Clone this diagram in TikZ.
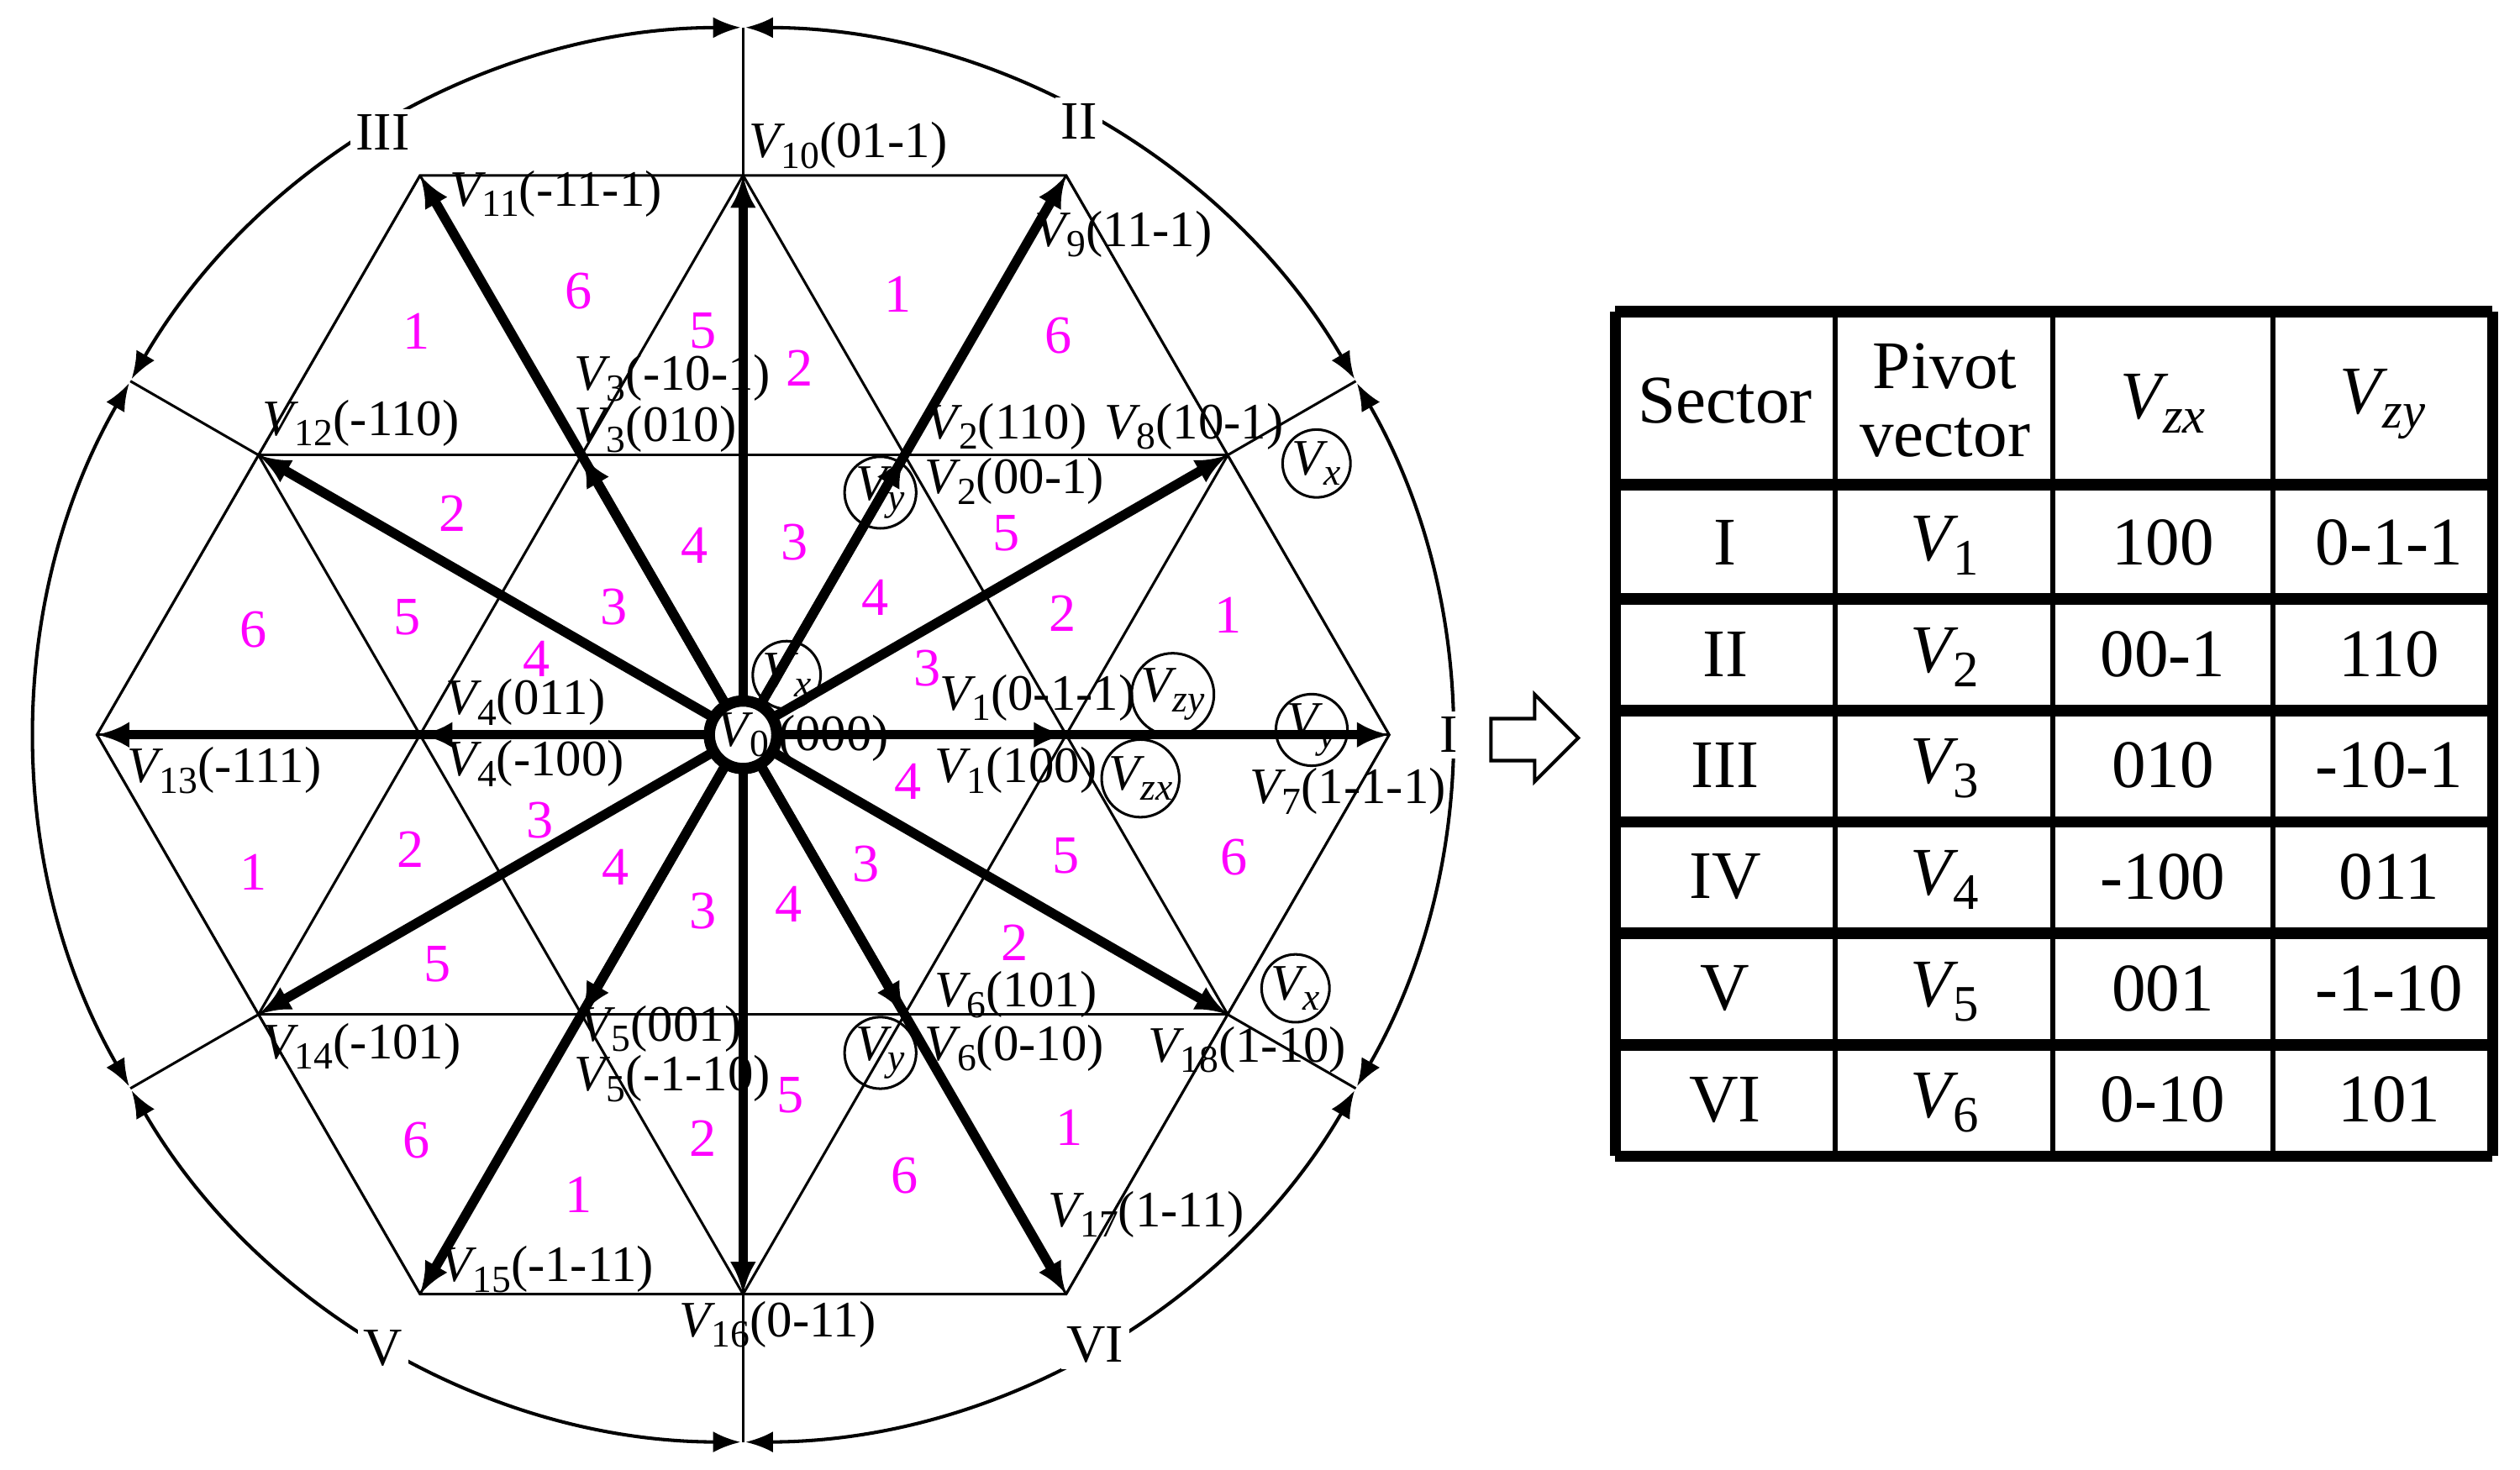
\documentclass[tikz,border=0pt]{standalone}
\usepackage{fontspec}
\setmainfont{Liberation Serif}
\usetikzlibrary{arrows.meta}
\definecolor{mag}{RGB}{255,0,255}
\newcommand\vv[1]{\textit{V}\kern-0.08em\raisebox{-0.45ex}{\scalebox{0.75}{#1}}}
\newcommand\vi[1]{\textit{V}\kern-0.08em\raisebox{-0.45ex}{\scalebox{0.75}{\textit{#1}}}}
\begin{document}
\begin{tikzpicture}[x=0.01cm,y=-0.01cm,
  lab/.style={anchor=west,inner sep=0pt,font=\fontsize{9}{10}\selectfont},
  num/.style={text=mag,inner sep=0pt,font=\fontsize{9.5}{10}\selectfont},
  vec/.style={line width=1.7pt,-{Latex[length=0.2cm,width=0.16cm]}},
  thin/.style={line width=0.45pt},
  circ/.style={circle,draw,thin,inner sep=0pt,minimum size=0.42cm,font=\fontsize{9}{10}\selectfont},
  sec/.style={fill=white,inner sep=1pt,font=\fontsize{9.5}{10}\selectfont},
  tab/.style={font=\fontsize{12}{14}\selectfont,align=center,inner sep=0pt}]
\useasboundingbox (0,0) rectangle (1560,909.8);
\coordinate (C) at (460,455);
% large
\coordinate (A0) at (860,455); \coordinate (A60) at (660,108.6); \coordinate (A120) at (260,108.6);
\coordinate (A180) at (60,455); \coordinate (A240) at (260,801.4); \coordinate (A300) at (660,801.4);
% medium
\coordinate (M30) at (760,281.8); \coordinate (M90) at (460,108.6); \coordinate (M150) at (160,281.8);
\coordinate (M210) at (160,628.2); \coordinate (M270) at (460,801.4); \coordinate (M330) at (760,628.2);
% small
\coordinate (S0) at (660,455); \coordinate (S60) at (560,281.8); \coordinate (S120) at (360,281.8);
\coordinate (S180) at (260,455); \coordinate (S240) at (360,628.2); \coordinate (S300) at (560,628.2);
% grid
\begin{scope}
\clip (A0)--(A60)--(A120)--(A180)--(A240)--(A300)--cycle;
\foreach \yy in {281.8,455,628.2} \draw[thin] (0,\yy)--(900,\yy);
\foreach \k in {-3,...,3} {
  \draw[thin] ({460+200*\k-300},974.6)--({460+200*\k+300},-64.6);
  \draw[thin] ({460+200*\k+300},974.6)--({460+200*\k-300},-64.6);
}
\end{scope}
\draw[thin] (A0)--(A60)--(A120)--(A180)--(A240)--(A300)--cycle;
% boundary lines
\coordinate (B90) at (460,17); \coordinate (B270) at (460,893);
\coordinate (B30) at (839.3,236); \coordinate (B210) at (80.7,674);
\coordinate (B150) at (80.7,236); \coordinate (B330) at (839.3,674);
\draw[thin] (B90)--(B270); \draw[thin] (B30)--(B210); \draw[thin] (B150)--(B330);
% arcs
\foreach \a in {-30,30,90,150,210,270}
  \draw[line width=0.6pt,{Latex[length=0.17cm,width=0.13cm]}-{Latex[length=0.17cm,width=0.13cm]}]
    (C) ++({-\a-0.2}:438) arc[start angle={-\a-0.2},end angle={-\a-59.8},radius=438];
\node[sec] (sI) at (897,455) {I};
\node[sec] (sII) at (668,75) {II};
\node[sec] (sIII) at (237,82) {III};
\node[sec] (sV) at (237,835) {V};
\node[sec] (sVI) at (678,833) {VI};
% vectors
\foreach \p in {A0,A60,A120,A180,A240,A300,M30,M90,M150,M210,M270,M330,S0,S60,S120,S180,S240,S300}
  \draw[vec] (C)--(\p);
\node[circle,draw,line width=2pt,fill=white,inner sep=0pt,minimum size=0.38cm,font=\fontsize{9}{10}\selectfont] (V0) at (C) {\vv{0}};
% circled labels
\node[circ] (c1) at (545,305) {\vi{y}};
\node[circ] (c2) at (487,418) {\vi{x}};
\node[circ] (c3) at (815,287) {\vi{x}};
\node[circ] (c4) at (726,430) {\vi{zy}};
\node[circ] (c5) at (706,482) {\vi{zx}};
\node[circ] (c6) at (812,452) {\vi{y}};
\node[circ] (c7) at (802,612) {\vi{x}};
\node[circ] (c8) at (545,652) {\vi{y}};
% vector labels
\node[lab] (l10) at (463,90) {\vv{10}(01-1)};
\node[lab] (l11) at (278,120) {\vv{11}(-11-1)};
\node[lab] (l9) at (640,145) {\vv{9}(11-1)};
\node[lab] (l3a) at (355,234) {\vv{3}(-10-1)};
\node[lab] (l12) at (162,262) {\vv{12}(-110)};
\node[lab] (l3b) at (355,266) {\vv{3}(010)};
\node[lab] (l2a) at (573,264) {\vv{2}(110)};
\node[lab] (l8) at (683,264) {\vv{8}(10-1)};
\node[lab] (l2b) at (572,298) {\vv{2}(00-1)};
\node[lab] (l4a) at (275,435) {\vv{4}(011)};
\node[lab] (l1a) at (581,432) {\vv{1}(0-1-1)};
\node[lab] (l13) at (78,477) {\vv{13}(-111)};
\node[lab] (l4b) at (275,473) {\vv{4}(-100)};
\node[lab] (l0) at (481,457) {(000)};
\node[lab] (l1b) at (578,477) {\vv{1}(100)};
\node[lab] (l7) at (773,490) {\vv{7}(1-1-1)};
\node[lab] (l6a) at (578,616) {\vv{6}(101)};
\node[lab] (l5a) at (358,637) {\vv{5}(001)};
\node[lab] (l14) at (162,648) {\vv{14}(-101)};
\node[lab] (l6b) at (572,649) {\vv{6}(0-10)};
\node[lab] (l18) at (710,650) {\vv{18}(1-10)};
\node[lab] (l5b) at (355,668) {\vv{5}(-1-10)};
\node[lab] (l17) at (648,752) {\vv{17}(1-11)};
\node[lab] (l15) at (272,786) {\vv{15}(-1-11)};
\node[lab] (l16) at (420,820) {\vv{16}(0-11)};
% magenta numbers
\foreach \x/\y/\t [count=\i] in {358/180/6,258/205/1,435/205/5,495/228/2,556/182/1,655/208/6,
  280/318/2,252/382/5,430/338/4,492/336/3,380/376/3,157/390/6,332/408/4,623/330/5,542/370/4,
  658/380/2,760/381/1,574/414/3,562/484/4,334/508/3,254/526/2,157/540/1,381/537/4,536/535/3,
  660/530/5,764/531/6,435/564/3,488/560/4,628/584/2,271/597/5,662/698/1,489/678/5,258/706/6,
  435/705/2,358/740/1,560/728/6}
  \node[num] (n\i) at (\x,\y) {\t};
% hollow arrow
\draw[line width=0.6pt] (923,445)--(950,445)--(950,430)--(977,457)--(950,484)--(950,471)--(923,471)--cycle;
% table
\foreach \xx in {1136,1271,1407} \draw[line width=0.9pt] (\xx,193)--(\xx,716);
\foreach \yy in {193,300,371,440,509,578,647,716} \draw[line width=2pt] (1000,\yy)--(1543,\yy);
\draw[line width=2pt] (1000,193)--(1000,716); \draw[line width=2pt] (1543,193)--(1543,716);
\node[tab] (h1) at (1068,248) {Sector};
\node[tab] (h2) at (1204,248) {Pivot\\[-2pt]vector};
\node[tab] (h3) at (1339,250) {\vi{zx}};
\node[tab] (h4) at (1475,250) {\vi{zy}};
\foreach \r/\s/\p/\zx/\zy [count=\i] in {0/I/1/100/0-1-1,1/II/2/00-1/110,2/III/3/010/-10-1,3/IV/4/-100/011,4/V/5/001/-1-10,5/VI/6/0-10/101}{
  \node[tab] (ra\i) at (1068,{336+69*\r}) {\s};
  \node[tab] (rb\i) at (1204,{338+69*\r}) {\vv{\p}};
  \node[tab] (rc\i) at (1339,{336+69*\r}) {\zx};
  \node[tab] (rd\i) at (1479,{336+69*\r}) {\zy};
}
\end{tikzpicture}
\end{document}
